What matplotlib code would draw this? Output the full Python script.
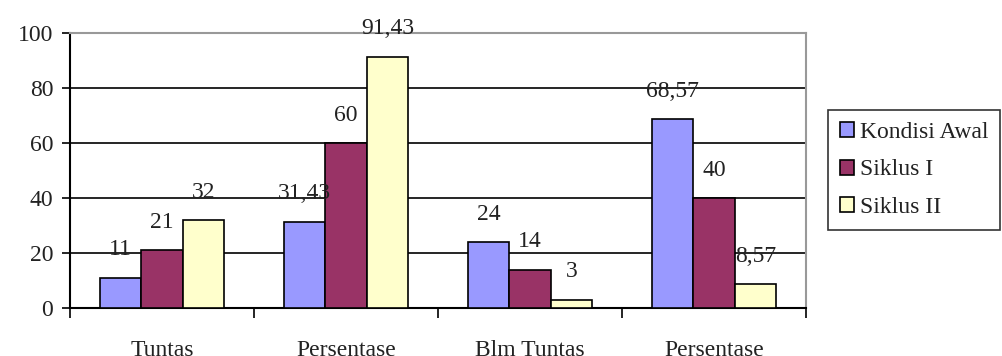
import numpy as np
import matplotlib.pyplot as plt

# data
kategori = ['Tuntas', 'Persentase', 'Blm Tuntas', 'Persentase']
seri = ['Kondisi Awal', 'Siklus I', 'Siklus II']
kondisi_awal = [11, 31.43, 24, 68.57]
siklus_1 = [21, 60, 14, 40]
siklus_2 = [32, 91.43, 3, 8.57]
warna = ['#9999FF', '#993366', '#FFFFCC']

plt.rcParams['font.family'] = ['Liberation Serif', 'DejaVu Serif']
fs = 17

fig = plt.figure(figsize=(10.03, 3.56), dpi=100)
ax = fig.add_axes([70 / 1003, 1 - 308 / 356, (806 - 70) / 1003, (308 - 33) / 356])

x = np.arange(len(kategori))
lebar = 0.225
nilai = [kondisi_awal, siklus_1, siklus_2]

for i, (nama, vals, c) in enumerate(zip(seri, nilai, warna)):
    pos = x + (i - 1) * lebar
    ax.bar(pos, vals, lebar, color=c, edgecolor='black', linewidth=1.2,
           label=nama, zorder=3)
    for px, v in zip(pos, vals):
        teks = f'{v:g}'.replace('.', ',')
        ax.annotate(teks, (px, v), xytext=(0, 20), textcoords='offset points',
                    ha='center', va='center', fontsize=fs, color='#222222',
                    zorder=4)

ax.set_xlim(-0.5, 3.5)
ax.set_ylim(0, 100)
ax.set_yticks(range(0, 101, 20))
ax.yaxis.grid(True, color='black', linewidth=1.2, zorder=0)
ax.tick_params(axis='y', direction='out', length=6, width=1.2, labelsize=fs,
               pad=6, labelcolor='#222222')

# ticks between categories
ax.set_xticks(np.arange(-0.5, 3.6, 1))
ax.set_xticklabels([])
ax.set_xticks(x, minor=True)
ax.set_xticklabels(kategori, minor=True, fontsize=fs, color='#222222')
ax.tick_params(axis='x', which='major', direction='out', length=7, width=1.2)
ax.tick_params(axis='x', which='minor', length=0, pad=23)

for s in ['left', 'bottom']:
    ax.spines[s].set_linewidth(1.5)
for s in ['top', 'right']:
    ax.spines[s].set_color('#999999')
    ax.spines[s].set_linewidth(1.5)

leg = ax.legend(loc='upper left', bbox_to_anchor=(828 / 1003, 1 - 110 / 356),
                bbox_transform=fig.transFigure, fontsize=fs, frameon=True,
                fancybox=False, edgecolor='black', handlelength=0.6,
                handleheight=0.6, handletextpad=0.25, borderpad=0.5,
                labelspacing=0.7, borderaxespad=0)
leg.get_frame().set_linewidth(1.2)
for t in leg.get_texts():
    t.set_color('#222222')

fig.savefig('out.png', dpi=100)
